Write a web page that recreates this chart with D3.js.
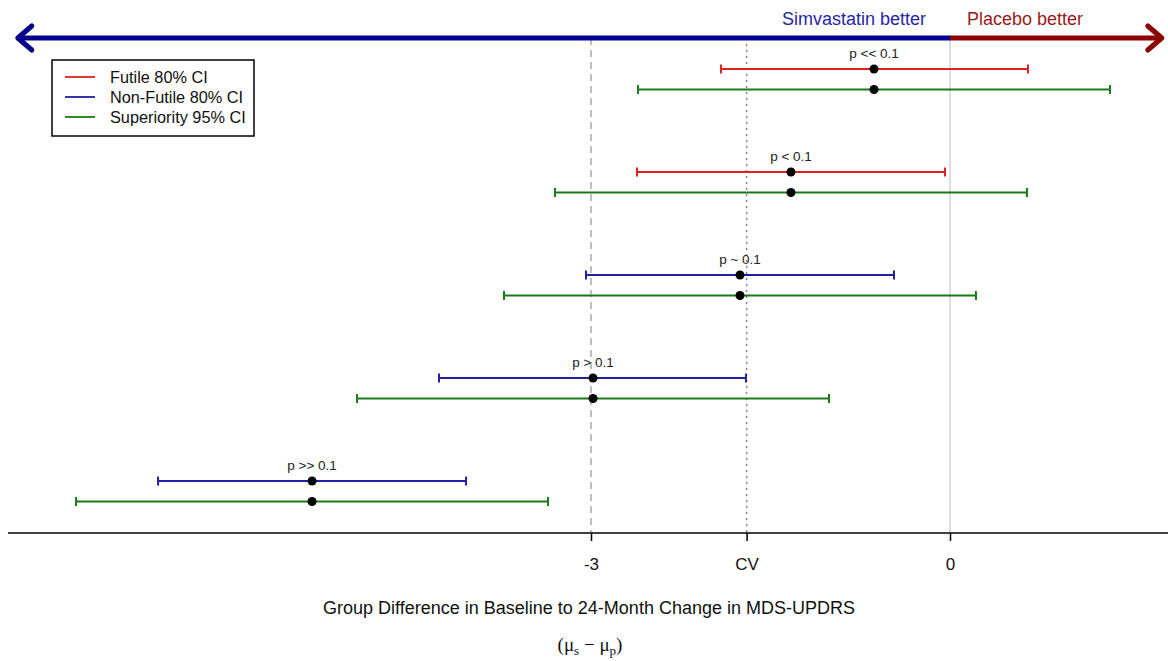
<!DOCTYPE html>
<html lang="en">
<head>
    <meta charset="UTF-8">
    <title>Futility CI</title>
    <script src="https://d3js.org/d3.v7.min.js"></script>
    <style>
        body { margin: 0; background: #fff; }
        text { font-family: "Liberation Sans", Arial, sans-serif; }
    </style>
</head>
<body>
<script>
    const width  = 1168;
    const height = 661;

    // rows top to bottom
    const rows      = ["p << 0.1", "p < 0.1", "p ~ 0.1", "p > 0.1", "p >> 0.1"];
    const estimate  = [-0.635, -1.329, -1.755, -2.983, -5.331];
    const ci80Lo    = [-1.914, -2.616, -3.042, -4.270, -6.618];
    const ci80Hi    = [ 0.652, -0.042, -0.468, -1.705, -4.044];
    const ci95Lo    = [-2.607, -3.301, -3.727, -4.955, -7.303];
    const ci95Hi    = [ 1.337,  0.643,  0.217, -1.011, -3.359];
    const futile    = [true, true, false, false, false];

    const cv = -1.7;
    const tickValues = [-3, cv, 0];
    const tickLabels = ["-3", "CV", "0"];
    const arrowRange = [-7.79, 1.77];

    const legendItems = [
        {label: "Futile 80% CI",       color: "#e02020"},
        {label: "Non-Futile 80% CI",   color: "#2020a0"},
        {label: "Superiority 95% CI",  color: "#1a7a1a"}
    ];
    const red = legendItems[0].color, blue = legendItems[1].color, green = legendItems[2].color;

    const x = d3.scaleLinear().domain([-3, 0]).range([591, 950]);
    const y = d3.scalePoint().domain(rows).range([69, 481]);
    const gap = 20.5;
    const axisY = 533;
    const arrowY = 38;

    const svg = d3.select("body").append("svg").attr("width", width).attr("height", height);

    // reference lines
    svg.append("line").attr("x1", x(-3)).attr("x2", x(-3)).attr("y1", arrowY).attr("y2", axisY)
        .attr("stroke", "#aaa").attr("stroke-width", 1.5).attr("stroke-dasharray", "7,5");
    svg.append("line").attr("x1", x(cv)).attr("x2", x(cv)).attr("y1", arrowY).attr("y2", axisY)
        .attr("stroke", "#888").attr("stroke-width", 1.5).attr("stroke-dasharray", "2,4");
    svg.append("line").attr("x1", x(0)).attr("x2", x(0)).attr("y1", arrowY).attr("y2", axisY)
        .attr("stroke", "#ddd").attr("stroke-width", 2);

    // direction arrow
    const darkBlue = "#00008b", darkRed = "#8b0000";
    svg.append("line").attr("x1", x(arrowRange[0]) + 3).attr("x2", x(0)).attr("y1", arrowY).attr("y2", arrowY)
        .attr("stroke", darkBlue).attr("stroke-width", 5);
    svg.append("line").attr("x1", x(0)).attr("x2", x(arrowRange[1]) - 3).attr("y1", arrowY).attr("y2", arrowY)
        .attr("stroke", darkRed).attr("stroke-width", 5);
    const xl = x(arrowRange[0]), xr = x(arrowRange[1]);
    svg.append("path").attr("d", `M${xl + 14},${arrowY - 12} L${xl},${arrowY} L${xl + 14},${arrowY + 12}`)
        .attr("fill", "none").attr("stroke", darkBlue).attr("stroke-width", 5)
        .attr("stroke-linecap", "round").attr("stroke-linejoin", "round");
    svg.append("path").attr("d", `M${xr - 14},${arrowY - 12} L${xr},${arrowY} L${xr - 14},${arrowY + 12}`)
        .attr("fill", "none").attr("stroke", darkRed).attr("stroke-width", 5)
        .attr("stroke-linecap", "round").attr("stroke-linejoin", "round");
    svg.append("text").attr("x", x(0) - 24).attr("y", 25).attr("text-anchor", "end")
        .attr("font-size", 18).attr("fill", "#2626a6").text("Simvastatin better");
    svg.append("text").attr("x", x(0) + 17).attr("y", 25).attr("text-anchor", "start")
        .attr("font-size", 18).attr("fill", "#9a1a1a").text("Placebo better");

    // x axis
    const axis = d3.axisBottom(x).tickValues(tickValues).tickSize(8)
        .tickFormat((d, i) => tickLabels[i]);
    const gAxis = svg.append("g").attr("transform", `translate(0,${axisY})`).call(axis);
    gAxis.select(".domain").remove();
    gAxis.selectAll(".tick line").attr("stroke", "#000").attr("stroke-width", 1.5);
    gAxis.selectAll(".tick text").attr("font-size", 17).attr("fill", "#111").attr("dy", "1.55em")
        .attr("font-family", "Liberation Sans, Arial, sans-serif");
    svg.append("line").attr("x1", 8).attr("x2", width).attr("y1", axisY).attr("y2", axisY)
        .attr("stroke", "#000").attr("stroke-width", 1.5);

    // error bars
    const data = rows.map((r, i) => ({
        row: r, est: estimate[i], lo80: ci80Lo[i], hi80: ci80Hi[i],
        lo95: ci95Lo[i], hi95: ci95Hi[i], color80: futile[i] ? red : blue
    }));

    function bar(g, lo, hi, yy, color) {
        g.append("line").attr("x1", x(lo)).attr("x2", x(hi)).attr("y1", yy).attr("y2", yy)
            .attr("stroke", color).attr("stroke-width", 2);
        [lo, hi].forEach(v => g.append("line").attr("x1", x(v)).attr("x2", x(v))
            .attr("y1", yy - 4.5).attr("y2", yy + 4.5).attr("stroke", color).attr("stroke-width", 2));
    }

    const groups = svg.selectAll("g.row").data(data).enter().append("g").attr("class", "row");
    groups.each(function(d) {
        const g = d3.select(this);
        const y0 = y(d.row);
        bar(g, d.lo80, d.hi80, y0, d.color80);
        bar(g, d.lo95, d.hi95, y0 + gap, green);
        g.append("circle").attr("cx", x(d.est)).attr("cy", y0).attr("r", 4.5).attr("fill", "#000");
        g.append("circle").attr("cx", x(d.est)).attr("cy", y0 + gap).attr("r", 4.5).attr("fill", "#000");
        g.append("text").attr("x", x(d.est)).attr("y", y0 - 11).attr("text-anchor", "middle")
            .attr("font-size", 13.5).attr("fill", "#222").text(d.row);
    });

    // legend
    const lg = svg.append("g").attr("transform", "translate(52,60)");
    lg.append("rect").attr("width", 202).attr("height", 76).attr("fill", "#fff")
        .attr("stroke", "#000").attr("stroke-width", 1.5);
    legendItems.forEach((d, i) => {
        const yy = 17 + i * 20;
        lg.append("line").attr("x1", 13).attr("x2", 43).attr("y1", yy).attr("y2", yy)
            .attr("stroke", d.color).attr("stroke-width", 1.8);
        lg.append("text").attr("x", 58).attr("y", yy + 5.5).attr("font-size", 16.3)
            .attr("fill", "#111").text(d.label);
    });

    // axis titles
    svg.append("text").attr("x", 589).attr("y", 614).attr("text-anchor", "middle")
        .attr("font-size", 18).attr("fill", "#111")
        .text("Group Difference in Baseline to 24-Month Change in MDS-UPDRS");
    const sub = svg.append("text").attr("x", 590).attr("y", 651).attr("text-anchor", "middle")
        .attr("font-size", 19).attr("fill", "#111").style("font-family", "Liberation Serif, serif");
    sub.append("tspan").text("(\u03bc");
    sub.append("tspan").attr("font-size", 13).attr("dy", 4).text("s");
    sub.append("tspan").attr("dy", -4).text(" \u2212 \u03bc");
    sub.append("tspan").attr("font-size", 13).attr("dy", 4).text("p");
    sub.append("tspan").attr("dy", -4).text(")");
</script>
</body>
</html>
